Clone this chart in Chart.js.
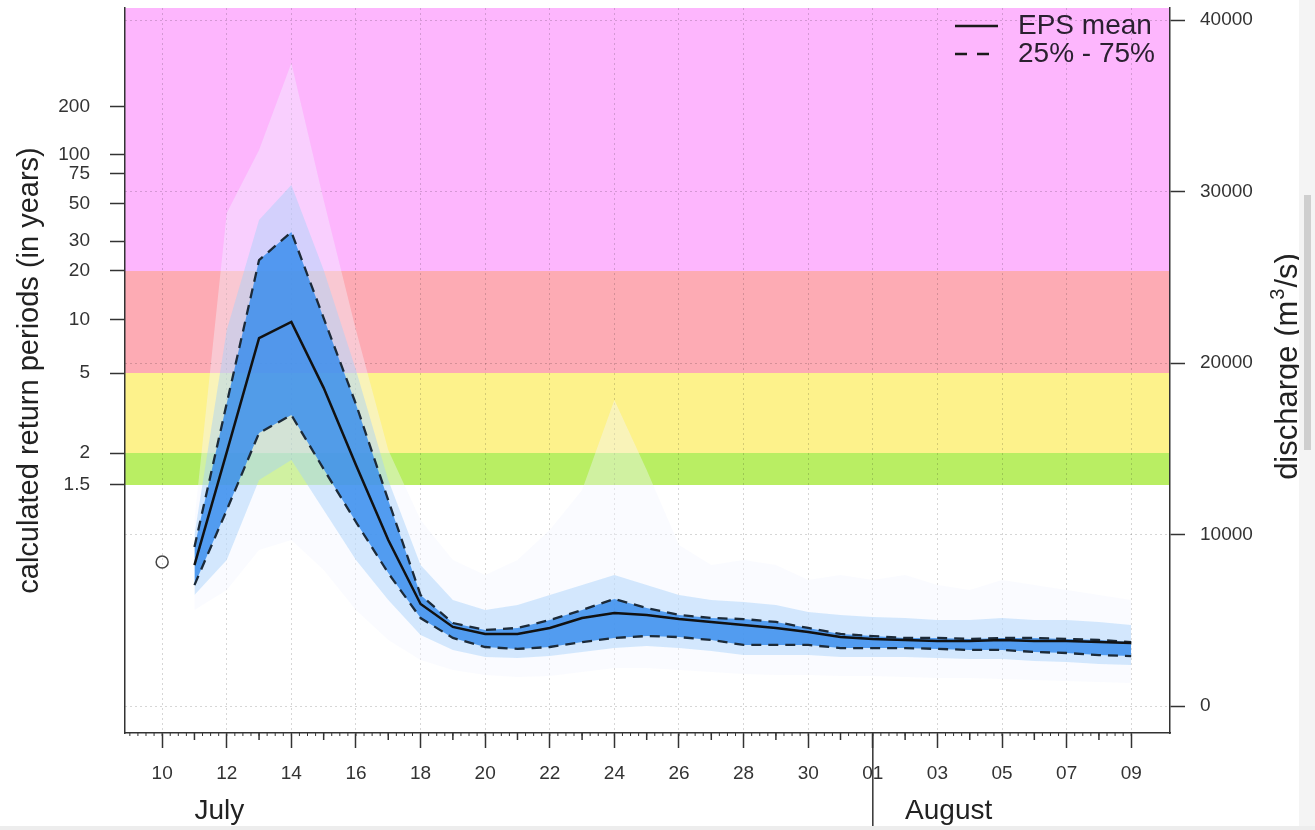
<!DOCTYPE html>
<html>
<head>
<meta charset="utf-8">
<script src="https://cdn.jsdelivr.net/npm/chart.js@4.4.0/dist/chart.umd.min.js"></script>
<style>
  html, body { margin: 0; padding: 0; background: #fff; }
  #wrap { position: relative; width: 1315px; height: 830px; overflow: hidden; }
  #chart { position: absolute; left: 0; top: 0; }
  #edge { position: absolute; left: 1299px; top: 0; width: 16px; height: 830px; background: #f4f4f4; }
  #thumb { position: absolute; left: 1304px; top: 195px; width: 7px; height: 255px; background: #cfcfcf; }
  #foot { position: absolute; left: 0; top: 826px; width: 1315px; height: 4px; background: #ededed; }
</style>
</head>
<body>
<div id="wrap">
  <canvas id="chart" width="1315" height="830"></canvas>
  <div id="edge"></div><div id="thumb"></div><div id="foot"></div>
</div>
<script>
// days from 10 July to 09 August
const dates = ["10","11","12","13","14","15","16","17","18","19","20","21","22","23","24","25",
  "26","27","28","29","30","31","01","02","03","04","05","06","07","08","09"];
const months = ["July", "August"];
const monthStart = [0, 22];

// discharge (m3/s)
const observed = [8400, null, null, null, null, null, null, null, null, null, null, null, null, null, null, null,
  null, null, null, null, null, null, null, null, null, null, null, null, null, null, null];
const epsMean = [null, 8220, 14800, 21450, 22400, 18550, 14050, 9680, 5950, 4610, 4200, 4200, 4550, 5130, 5420, 5310,
  5070, 4900, 4720, 4550, 4320, 4020, 3910, 3850, 3790, 3790, 3850, 3790, 3790, 3730, 3670];
const q75 = [null, 9270, 17650, 26000, 27640, 22620, 17600, 12000, 6470, 4840, 4430, 4550, 5010, 5600, 6240, 5710,
  5310, 5130, 5070, 4900, 4550, 4200, 4080, 3970, 3970, 3910, 3970, 3970, 3910, 3850, 3730];
const q25 = [null, 7050, 11430, 15920, 16970, 13820, 10730, 7750, 5130, 3970, 3440, 3330, 3440, 3730, 3970, 4080,
  4020, 3850, 3560, 3560, 3560, 3380, 3380, 3380, 3330, 3270, 3270, 3150, 3090, 2970, 2910];
const q90 = [null, 9970, 21920, 28340, 30380, 25420, 19590, 13180, 8220, 6180, 5600, 5890, 6470, 7060, 7640, 7060,
  6470, 6180, 6060, 5890, 5480, 5310, 5190, 5130, 5010, 5010, 5130, 5010, 5010, 4900, 4720];
const q10 = [null, 6470, 8510, 13180, 14340, 11430, 8510, 6180, 4140, 3270, 2860, 2800, 2920, 3150, 3380, 3500,
  3380, 3210, 2970, 2970, 2970, 2860, 2860, 2860, 2800, 2740, 2740, 2620, 2570, 2450, 2390];
const ensMax = [null, 10850, 28750, 32420, 37490, 29500, 21920, 14930, 10850, 8510, 7640, 8510, 10260, 12600, 17840, 13760,
  9390, 8220, 8510, 8220, 7350, 7640, 7350, 7640, 7060, 6760, 7350, 7060, 6760, 6470, 6180];
const ensMin = [null, 5600, 6760, 9100, 9680, 7930, 5600, 3850, 2680, 2100, 1810, 1690, 1750, 1980, 2220, 2220,
  2100, 1980, 1870, 1810, 1810, 1750, 1750, 1690, 1630, 1630, 1570, 1520, 1460, 1400, 1340];

// axes
const dischargeTicks = [0, 10000, 20000, 30000, 40000];
const rpLabels = ["1.5", "2", "5", "10", "20", "30", "50", "75", "100", "200"];
const rpDischarge = [12887, 14752, 19417, 22508, 25365, 27114, 29272, 31021, 32129, 34928];
// warning thresholds: 1.5, 2, 5, 20 years
const thresholds = [12887, 14752, 19417, 25365];

const yMin = -1574, yMax = 40700;
const FONT = "'Liberation Sans', Arial, Helvetica, sans-serif";
const INK = "#333";

function pts(arr) {
  return arr.map((v, i) => ({ x: i, y: v }));
}

function noPad(ax) {
  ax.paddingTop = 0; ax.paddingBottom = 0; ax.paddingLeft = 0; ax.paddingRight = 0;
}

const bandsPlugin = {
  id: "bands",
  beforeDraw(chart) {
    const { ctx, chartArea } = chart;
    const y = chart.scales.yR;
    const colors = ["#b9ee63", "#fdf28b", "#fdabb4", "#fdb6fd"];
    const edges = thresholds.concat([yMax]);
    ctx.save();
    for (let i = 0; i < colors.length; i++) {
      const top = y.getPixelForValue(edges[i + 1]);
      const bot = y.getPixelForValue(edges[i]);
      ctx.fillStyle = colors[i];
      ctx.fillRect(chartArea.left, top, chartArea.right - chartArea.left, bot - top);
    }
    ctx.restore();
  }
};

const decorPlugin = {
  id: "decor",
  afterDraw(chart) {
    const { ctx, chartArea } = chart;
    const x = chart.scales.x;
    const b = chartArea.bottom;
    ctx.save();
    ctx.strokeStyle = INK;
    // minor day ticks
    ctx.lineWidth = 1.5;
    dates.forEach((d, i) => {
      if (i % 2 === 1) {
        const px = x.getPixelForValue(i);
        ctx.beginPath(); ctx.moveTo(px, b); ctx.lineTo(px, b + 7); ctx.stroke();
      }
    });
    // 6-hourly rug ticks
    ctx.lineWidth = 1;
    for (let t = -1; t <= dates.length - 1; t += 0.25) {
      const px = x.getPixelForValue(t);
      ctx.beginPath(); ctx.moveTo(px, b); ctx.lineTo(px, b + 3); ctx.stroke();
    }
    // month separator + month names
    ctx.lineWidth = 1.5;
    const sep = x.getPixelForValue(monthStart[1]);
    ctx.beginPath(); ctx.moveTo(sep, b); ctx.lineTo(sep, 826); ctx.stroke();
    ctx.fillStyle = "#222";
    ctx.font = "28px " + FONT;
    ctx.textBaseline = "middle";
    ctx.textAlign = "left";
    months.forEach((m, i) => {
      ctx.fillText(m, x.getPixelForValue(monthStart[i] + 1), 811);
    });

    // right axis title with superscript, reading bottom to top
    const mainFont = "31px " + FONT, supFont = "20px " + FONT;
    const parts = ["discharge (m", "3", "/s)"];
    ctx.font = mainFont; const w0 = ctx.measureText(parts[0]).width;
    const w2 = ctx.measureText(parts[2]).width;
    ctx.font = supFont; const w1 = ctx.measureText(parts[1]).width + 2;
    const total = w0 + w1 + w2;
    ctx.translate(1287, (chartArea.top + chartArea.bottom) / 2 - 4);
    ctx.rotate(-Math.PI / 2);
    ctx.textBaseline = "alphabetic";
    ctx.font = mainFont;
    ctx.fillText(parts[0], -total / 2, 10);
    ctx.font = supFont;
    ctx.fillText(parts[1], -total / 2 + w0 + 1, -3);
    ctx.font = mainFont;
    ctx.fillText(parts[2], -total / 2 + w0 + w1, 10);
    ctx.setTransform(1, 0, 0, 1, 0, 0);

    // legend
    const lx = chartArea.right - 215;
    const tx = chartArea.right - 152;
    const r1 = chartArea.top + 18, r2 = chartArea.top + 46;
    ctx.textBaseline = "middle";
    ctx.strokeStyle = "#1a1a1a";
    ctx.lineWidth = 2.5;
    ctx.beginPath(); ctx.moveTo(lx, r1); ctx.lineTo(lx + 43, r1); ctx.stroke();
    ctx.lineWidth = 2.3;
    ctx.setLineDash([12, 10]);
    ctx.beginPath(); ctx.moveTo(lx, r2); ctx.lineTo(lx + 35, r2); ctx.stroke();
    ctx.setLineDash([]);
    ctx.font = "28px " + FONT;
    ctx.fillStyle = "#2a2030";
    ctx.fillText("EPS mean", tx, r1);
    ctx.fillText("25% - 75%", tx, r2);
    ctx.restore();
  }
};

const band = (data, target, color) => ({
  data: pts(data), fill: target === null ? false : { target: target },
  backgroundColor: color, borderWidth: 0, pointRadius: 0, yAxisID: "yR"
});

new Chart(document.getElementById("chart"), {
  type: "line",
  data: {
    datasets: [
      { label: "EPS mean", data: pts(epsMean), borderColor: "#111", borderWidth: 2.5, pointRadius: 0, fill: false, yAxisID: "yR" },
      { label: "75%", data: pts(q75), borderColor: "#1c2a38", borderWidth: 2.3, borderDash: [10, 7], pointRadius: 0, fill: false, yAxisID: "yR" },
      { label: "25%", data: pts(q25), borderColor: "#1c2a38", borderWidth: 2.3, borderDash: [10, 7], pointRadius: 0, fill: false, yAxisID: "yR" },
      { label: "observed", data: pts(observed), showLine: false, pointRadius: 6, pointBorderWidth: 1.5,
        pointBorderColor: "#444", pointBackgroundColor: "rgba(0,0,0,0)", yAxisID: "yR" },
      band(q75, 5, "rgba(50,138,236,0.8)"),
      band(q25, null, "transparent"),
      band(q90, 7, "rgba(165,208,250,0.45)"),
      band(q10, null, "transparent"),
      band(ensMax, 9, "rgba(242,246,255,0.4)"),
      band(ensMin, null, "transparent")
    ]
  },
  options: {
    responsive: false,
    animation: false,
    layout: { padding: { top: 8, left: 0, right: 0, bottom: 0 } },
    elements: { line: { tension: 0 } },
    plugins: { legend: { display: false }, tooltip: { enabled: false } },
    scales: {
      x: {
        type: "linear", position: "bottom", min: -1.15, max: 31.2,
        afterBuildTicks: ax => { ax.ticks = dates.map((d, i) => ({ value: i })).filter(t => t.value % 2 === 0); },
        afterFit: ax => { ax.height = 97; noPad(ax); },
        ticks: { callback: v => dates[v], autoSkip: false, maxRotation: 0, padding: 14,
          font: { family: FONT, size: 19 }, color: INK },
        grid: { color: "rgba(0,0,0,0.16)", lineWidth: 1, tickLength: 15, tickColor: INK, tickWidth: 1.5 },
        border: { color: INK, width: 1.5, dash: [2, 3] }
      },
      yL: {
        type: "linear", position: "left", min: yMin, max: yMax,
        afterBuildTicks: ax => { ax.ticks = rpDischarge.map(v => ({ value: v })); },
        afterFit: ax => { ax.width = 125; noPad(ax); },
        ticks: { callback: (v, i) => rpLabels[i], autoSkip: false, padding: 20,
          font: { family: FONT, size: 19 }, color: INK },
        grid: { drawOnChartArea: false, tickLength: 15, tickColor: INK, tickWidth: 1.5 },
        border: { color: INK, width: 1.5 },
        title: { display: true, text: "calculated return periods (in years)", color: "#222",
          font: { family: FONT, size: 29 }, padding: { top: 13, bottom: 0 } }
      },
      yR: {
        type: "linear", position: "right", min: yMin, max: yMax,
        afterBuildTicks: ax => { ax.ticks = dischargeTicks.map(v => ({ value: v })); },
        afterFit: ax => { ax.width = 145; noPad(ax); },
        ticks: { callback: v => String(v), autoSkip: false, padding: 15,
          font: { family: FONT, size: 19 }, color: INK },
        grid: { color: "rgba(0,0,0,0.16)", lineWidth: 1, tickLength: 15, tickColor: INK, tickWidth: 1.5 },
        border: { color: INK, width: 1.5, dash: [2, 3] }
      }
    }
  },
  plugins: [bandsPlugin, decorPlugin]
});
</script>
</body>
</html>
